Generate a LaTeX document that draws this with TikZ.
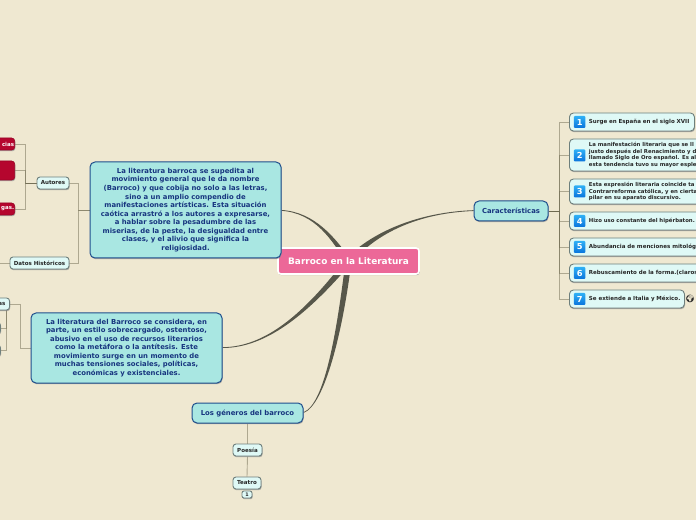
\documentclass[tikz,border=0pt]{standalone}
\usepackage{fontspec}
\setmainfont{DejaVu Sans}
\newfontfamily\emo{Noto Emoji}
\usetikzlibrary{shadows,backgrounds,calc}
\def\pxu{*0.75pt}
\definecolor{bgc}{HTML}{EFE8D1}
\definecolor{mainfill}{HTML}{A9E7E2}
\definecolor{mainedge}{HTML}{1F4E8C}
\definecolor{maintext}{HTML}{17357F}
\definecolor{lightfill}{HTML}{DFF9F6}
\definecolor{lightedge}{HTML}{6E7F7C}
\definecolor{pinkc}{HTML}{EC6898}
\definecolor{redc}{HTML}{B5062E}
\definecolor{linkc}{HTML}{57574A}
\definecolor{twig}{HTML}{6E6A50}
\definecolor{numlow}{HTML}{0A74DC}
\definecolor{numtop}{HTML}{2FB0F5}
\tikzset{
  x=0.75pt,y=-0.75pt,
  sz/.style 2 args={minimum width=#1\pxu,minimum height=#2\pxu},
  base/.style={rounded corners=3\pxu,inner sep=0pt,font=\bfseries,
     general shadow={shadow xshift=0.6\pxu,shadow yshift=-1.2\pxu,fill=black!45,opacity=.7}},
  mainbox/.style={base,draw=mainedge,line width=1\pxu,fill=mainfill,text=maintext,align=center,
     rounded corners=5\pxu,font=\bfseries\fontsize{5.15}{6.4}\selectfont},
  headbox/.style={mainbox,font=\bfseries\fontsize{5.15}{6.4}\selectfont},
  minibox/.style={base,draw=lightedge,line width=.9\pxu,fill=lightfill,text=black!85,
     font=\bfseries\fontsize{4.15}{5}\selectfont},
  itembox/.style={minibox,anchor=west,align=left,text width=\dimexpr #1pt*3/4\relax,inner sep=0pt,
     rounded corners=4\pxu},
  redbox/.style={base,fill=redc,text=white,draw=redc!85!black,line width=.6\pxu,
     font=\bfseries\fontsize{4.1}{5}\selectfont},
  numbox/.style={rounded corners=1\pxu,top color=numtop,bottom color=numlow,text=white,
     minimum width=11.5\pxu,minimum height=12\pxu,inner sep=0pt,
     font=\bfseries\fontsize{6.2}{7}\selectfont},
  twigline/.style={draw=twig,opacity=.5,line width=.9\pxu},
  taper/.style={fill=linkc},
}
\newcommand{\itemtext}[1]{\parbox[c]{150pt}{\raggedright\fontsize{4.02}{4.85}\selectfont #1}}
\newcommand{\gap}{\hspace*{14.6pt}}
\begin{document}
\begin{tikzpicture}
\useasboundingbox (0,0) rectangle (696,520);

% root and main topics
\node[base,fill=pinkc,draw=white,line width=1.6\pxu,text=white,sz={141}{26},
  font=\bfseries\fontsize{6.7}{8}\selectfont] (root) at (348.5,261) {Barroco en la Literatura};

\node[mainbox,sz={191}{96}] (textA) at (185.5,210) {La literatura barroca se supedita al\\
movimiento general que le da nombre\\
(Barroco) y que cobija no solo a las letras,\\
sino a un amplio compendio de\\
manifestaciones artísticas. Esta situación\\
caótica arrastró a los autores a expresarse,\\
a hablar sobre la pesadumbre de las\\
miserias, de la peste, la desigualdad entre\\
clases, y el alivio que significa la\\
religiosidad.};

\node[mainbox,sz={191}{70}] (textB) at (126.5,348) {La literatura del Barroco se considera, en\\
parte, un estilo sobrecargado, ostentoso,\\
abusivo en el uso de recursos literarios\\
como la metáfora o la antítesis. Este\\
movimiento surge en un momento de\\
muchas tensiones sociales, políticas,\\
económicas y existenciales.};

\node[headbox,sz={74}{20}] (carac) at (511,211) {Características};
\node[headbox,sz={111}{20}] (generos) at (247.5,413) {Los géneros del barroco};

% genres
\node[minibox,sz={29}{12}] (poesia) at (247.5,450) {Poesía};
\node[minibox,sz={28}{12}] (teatro) at (247,483) {Teatro};
\node[minibox,sz={10}{7},rounded corners=2\pxu,font=\bfseries\fontsize{3.6}{4}\selectfont] (badge) at (247,494.5) {1};

% left branch
\node[minibox,sz={32}{12}] (autores) at (53,183) {Autores};
\node[minibox,sz={59}{12}] (datos) at (39.5,263) {Datos Históricos};
\node[redbox,sz={32}{12},anchor=east] (red1) at (15,144) {\hspace*{14pt}cias};
\node[redbox,sz={32}{19},anchor=east] (red2) at (15,170.5) {};
\node[redbox,sz={32}{12},anchor=east] (red3) at (15,209) {\hspace*{13.5pt}gas.};
\node[minibox,sz={30}{12},anchor=east] (obras) at (10,304) {\hspace*{11pt}as};
\node[minibox,sz={20}{11},anchor=east] (stubA) at (1,328) {};
\node[minibox,sz={20}{11},anchor=east] (stubB) at (1,350.5) {};
\coordinate (datosEnd) at (-3,263);
\coordinate (obrasRoot) at (6.5,304);

% right branch
\node[itembox=125,minimum height=18\pxu] (it1) at (569,122) {\gap Surge en España en el siglo XVII};
\node[itembox=160,minimum height=32\pxu] (it2) at (569,155) {\gap\itemtext{La manifestación literaria que se ll\\justo después del Renacimiento y d\\llamado Siglo de Oro español. Es al\\esta tendencia tuvo su mayor esple}};
\node[itembox=160,minimum height=25\pxu] (it3) at (569,191.5) {\gap\itemtext{Esta expresión literaria coincide ta\\Contrarreforma católica, y en cierta\\pilar en su aparato discursivo.}};
\node[itembox=160,minimum height=18\pxu] (it4) at (569,221) {\gap{\fontsize{4.02}{5}\selectfont Hizo uso constante del hipérbaton.}};
\node[itembox=160,minimum height=18\pxu] (it5) at (569,247) {\gap Abundancia de menciones mitológi};
\node[itembox=160,minimum height=18\pxu] (it6) at (569,273) {\gap Rebuscamiento de la forma.(claros};
\node[itembox=115,minimum height=18\pxu] (it7) at (569,299) {\gap Se extiende a Italia y México.};

\node[numbox] (n1) at (579.7,122) {1};
\node[numbox] (n2) at (579.7,155.5) {2};
\node[numbox] (n3) at (579.7,191.5) {3};
\node[numbox] (n4) at (579.7,221) {4};
\node[numbox] (n5) at (579.7,247) {5};
\node[numbox] (n6) at (579.7,273) {6};
\node[numbox] (n7) at (579.7,299) {7};
\node[inner sep=0pt,font=\emo\fontsize{5.6}{6}\selectfont,text=black!85] (globe) at (690,298.5) {🌍};

\begin{scope}[on background layer]
  \fill[bgc] (0,0) rectangle (696,520);

  % tapered main links
  \fill[taper] (textA.east) .. controls (315,212) and (335,238) .. ($(root.center)+(2,-2)$)
     -- ($(root.center)+(-2,2)$) .. controls (332,240) and (315,213) .. ([yshift=-.6]textA.east) -- cycle;
  \fill[taper] (carac.west) .. controls (420,213) and (377,232) .. ($(root.center)+(2.4,2.4)$)
     -- ($(root.center)+(-2.4,-2.4)$) .. controls (373,231) and (420,212) .. ([yshift=.6]carac.west) -- cycle;
  \fill[taper] (textB.east) .. controls (265,348) and (306,316) .. ($(root.center)+(2.4,2.4)$)
     -- ($(root.center)+(-2.4,-2.4)$) .. controls (304,314) and (265,347) .. ([yshift=.6]textB.east) -- cycle;
  \fill[taper] (generos.east) .. controls (325,405) and (343,330) .. ($(root.center)+(3,0)$)
     -- ($(root.center)+(-3,0)$) .. controls (337,330) and (325,404) .. ([yshift=.6]generos.east) -- cycle;

  % right twigs
  \foreach \t in {it1,it2,it3,it4,it5,it6,it7}
    \draw[twigline] (carac.east) -- ++(11,0) |- (\t.west);

  % left twigs
  \foreach \t in {red1,red2,red3}
    \draw[twigline] (autores.west) -- ++(-11,0) |- (\t.east);
  \draw[twigline] (autores.west) -- ++(-11,0);
  \foreach \t in {autores,datos}
    \draw[twigline] (textA.west) -- ++(-11,0) |- (\t.east);
  \draw[twigline] (datos.west) -- (datosEnd);
  \draw[twigline] (textB.west) -- ++(-10,0) |- (obras.east);
  \foreach \t in {stubA,stubB}
    \draw[twigline] (obrasRoot) |- (\t.east);

  % genres
  \draw[twigline] (generos.south) -- (poesia.north);
  \draw[twigline] (poesia.south) -- (teatro.north);
\end{scope}
\end{tikzpicture}
\end{document}
